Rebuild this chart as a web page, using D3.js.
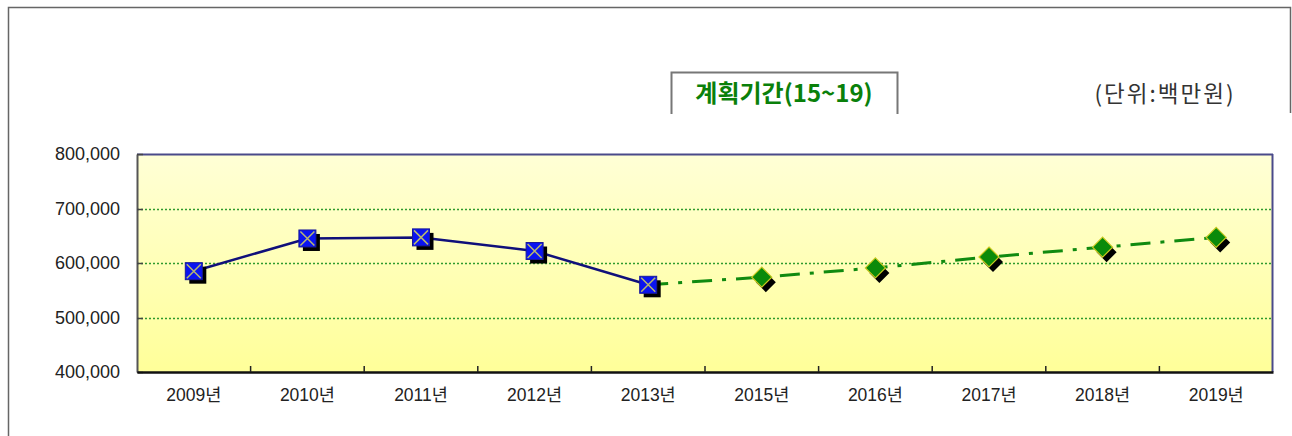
<!DOCTYPE html>
<html><head><meta charset="utf-8">
<script src="https://cdn.jsdelivr.net/npm/d3@7"></script>
<style>
html,body{margin:0;padding:0;background:#fff;}
svg{display:block;}
</style></head>
<body>
<svg id="chart" width="1292" height="436"></svg>
<script>
const categories = ["2009년","2010년","2011년","2012년","2013년","2015년","2016년","2017년","2018년","2019년"];
const actualCats = ["2009년","2010년","2011년","2012년","2013년"];
const actualValues = [585000, 645000, 647000, 622000, 560000];
const planCats = ["2013년","2015년","2016년","2017년","2018년","2019년"];
const planValues = [560000, 574000, 591000, 611000, 629000, 647000];
const yTicks = [400000, 500000, 600000, 700000, 800000];
const titleText = "계획기간(15~19)";
const unitText = "(단위:백만원)";

const svg = d3.select("#chart");
const W = 1292, H = 436;
const m = {left:137, right:1273, top:154, bottom:372};

svg.append("path")
  .attr("d", `M8.5,${H} L8.5,7.5 L1290.5,7.5 L1290.5,113`)
  .attr("fill","none").attr("stroke","#666").attr("stroke-width",1.5);

const defs = svg.append("defs");
const grad = defs.append("linearGradient").attr("id","bg").attr("x1",0).attr("y1",0).attr("x2",0).attr("y2",1);
grad.append("stop").attr("offset","0%").attr("stop-color","#ffffd6");
grad.append("stop").attr("offset","100%").attr("stop-color","#ffff99");

const x = d3.scaleBand().domain(categories).range([m.left, m.right]).padding(0);
const y = d3.scaleLinear().domain([400000, 800000]).range([m.bottom, m.top]);
const cx = c => x(c) + x.bandwidth()/2;

svg.append("rect").attr("x",m.left).attr("y",m.top)
  .attr("width",m.right-m.left).attr("height",m.bottom-m.top).attr("fill","url(#bg)");

svg.append("g").selectAll("line").data(yTicks.filter(v=>v>400000 && v<800000)).join("line")
  .attr("x1",m.left).attr("x2",m.right)
  .attr("y1",d=>Math.round(y(d))+0.5).attr("y2",d=>Math.round(y(d))+0.5)
  .attr("stroke","#2e9a2e").attr("stroke-width",1.4).attr("stroke-dasharray","2,2");

svg.append("line").attr("x1",m.left).attr("x2",m.right).attr("y1",m.top+0.5).attr("y2",m.top+0.5)
  .attr("stroke","#4a4a8a").attr("stroke-width",2);
svg.append("line").attr("x1",m.right-0.5).attr("x2",m.right-0.5).attr("y1",m.top).attr("y2",m.bottom)
  .attr("stroke","#4a4a8a").attr("stroke-width",2);

const yAxis = d3.axisLeft(y).tickValues(yTicks).tickSize(0).tickPadding(17)
  .tickFormat(d3.format(","));
const gy = svg.append("g").attr("transform",`translate(${m.left},0)`).call(yAxis);
gy.select(".domain").attr("stroke","#555").attr("stroke-width",2);
gy.selectAll("text").attr("font-family","'Liberation Sans', Arial, sans-serif")
  .attr("font-size",18).attr("fill","#222");
svg.append("g").selectAll("line").data(yTicks).join("line")
  .attr("x1",m.left).attr("x2",m.left+6)
  .attr("y1",d=>Math.round(y(d))+0.5).attr("y2",d=>Math.round(y(d))+0.5)
  .attr("stroke","#444").attr("stroke-width",1.5);

const xAxis = d3.axisBottom(x).tickSize(0).tickPadding(17);
const gx = svg.append("g").attr("transform",`translate(0,${m.bottom})`).call(xAxis);
gx.select(".domain").attr("stroke","#111").attr("stroke-width",2.5);
gx.selectAll("text").attr("font-family","'Liberation Sans', 'Noto Sans CJK KR', sans-serif")
  .attr("font-size",17.5).attr("fill","#222");
svg.append("g").selectAll("line").data(categories.slice(1)).join("line")
  .attr("x1",d=>x(d)).attr("x2",d=>x(d))
  .attr("y1",m.bottom-6).attr("y2",m.bottom)
  .attr("stroke","#222").attr("stroke-width",1.5);

const planData = planCats.map((c,i)=>({c, v:planValues[i]}));
const actData = actualCats.map((c,i)=>({c, v:actualValues[i]}));
const line = d3.line().x(d=>cx(d.c)).y(d=>y(d.v));
svg.append("path").datum(planData).attr("d",line)
  .attr("fill","none").attr("stroke","#108a10").attr("stroke-width",3)
  .attr("stroke-dasharray","20,10,4,10");
svg.append("path").datum(actData).attr("d",line)
  .attr("fill","none").attr("stroke","#10107a").attr("stroke-width",2.5);

const ds = 10;
const diamond = (x0,y0) => `M${x0},${y0-ds} L${x0+ds},${y0} L${x0},${y0+ds} L${x0-ds},${y0} Z`;
const pd = svg.append("g").selectAll("g").data(planData.slice(1)).join("g");
pd.append("path").attr("d",d=>diamond(cx(d.c)+4,y(d.v)+5)).attr("fill","#000");
pd.append("path").attr("d",d=>diamond(cx(d.c),y(d.v))).attr("fill","#0a8a0a")
  .attr("stroke","#c8c820").attr("stroke-width",1.2);

const s = 17;
const pa = svg.append("g").selectAll("g").data(actData).join("g");
pa.append("rect").attr("x",d=>cx(d.c)-s/2+4).attr("y",d=>y(d.v)-s/2+4).attr("width",s).attr("height",s).attr("fill","#000");
pa.append("rect").attr("x",d=>cx(d.c)-s/2).attr("y",d=>y(d.v)-s/2).attr("width",s).attr("height",s)
  .attr("fill","#0a14f0").attr("stroke","#1a1a9a").attr("stroke-width",1);
pa.append("path").attr("d",d=>{const a=cx(d.c), b=y(d.v), h=s/2-1.5; return `M${a-h},${b-h}L${a+h},${b+h}M${a+h},${b-h}L${a-h},${b+h}`;})
  .attr("stroke","#b8b870").attr("stroke-width",1.5);

svg.append("path").attr("d","M671.5,114 L671.5,72.5 L897.5,72.5 L897.5,114")
  .attr("fill","none").attr("stroke","#777").attr("stroke-width",2);
svg.append("text").attr("x",784).attr("y",102).attr("text-anchor","middle")
  .attr("font-family","'Noto Sans CJK KR', sans-serif").attr("font-weight","bold")
  .attr("font-size",24).attr("fill","#0a800a").text(titleText);

svg.append("text").attr("x",1165).attr("y",102).attr("text-anchor","middle")
  .attr("font-family","'Noto Sans CJK KR', sans-serif")
  .attr("font-size",22.5).attr("fill","#333").attr("letter-spacing",2).text(unitText);
</script>
</body></html>
